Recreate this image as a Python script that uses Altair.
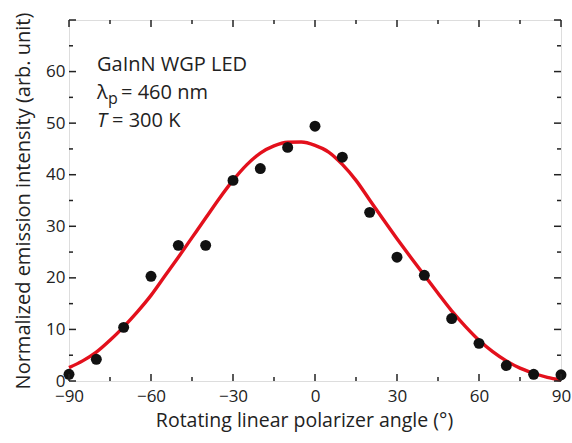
import altair as alt
import pandas as pd

# measured points
angles = [-90, -80, -70, -60, -50, -40, -30, -20, -10, 0, 10, 20, 30, 40, 50, 60, 70, 80, 90]
intensity = [1.3, 4.2, 10.4, 20.3, 26.3, 26.3, 38.9, 41.2, 45.3, 49.4, 43.4, 32.7, 24.0, 20.5, 12.1, 7.3, 3.0, 1.3, 1.2]

# fitted curve
fit_angles = [-90, -85, -80, -75, -70, -65, -60, -55, -50, -45, -40, -35, -30, -25, -20, -15, -10, -5,
              0, 5, 10, 15, 20, 25, 30, 35, 40, 45, 50, 55, 60, 65, 70, 75, 80, 85, 90]
fit_values = [2.6, 3.9, 5.6, 7.9, 10.5, 13.4, 16.6, 20.3, 24.0, 27.8, 31.6, 35.4, 38.9, 41.9, 44.2, 45.6, 46.3, 46.35,
              45.7, 44.4, 42.0, 38.9, 35.1, 31.3, 27.6, 24.0, 20.5, 17.0, 13.6, 10.6, 7.9, 5.7, 3.9, 2.5, 1.5, 0.7, 0.2]

x_major = [-90, -60, -30, 0, 30, 60, 90]
x_minor = [-75, -45, -15, 15, 45, 75]
y_major = [0, 10, 20, 30, 40, 50, 60, 70]
y_minor = [5, 15, 25, 35, 45, 55, 65]

FONT = "Open Sans"
W, H = 492, 361

pts = pd.DataFrame({"angle": angles, "value": intensity})
fit = pd.DataFrame({"angle": fit_angles, "value": fit_values})

xscale = alt.Scale(domain=[-90, 90], nice=False, zero=False)
yscale = alt.Scale(domain=[0, 70], nice=False)

xaxis = alt.Axis(values=[-90, -60, -30, 0, 30, 60, 90], ticks=False, domain=False, grid=False,
                 labelExpr="replace(datum.label, '-', '\u2212')", labelPadding=7,
                 labelFontSize=17, labelFont=FONT, labelColor="#222", labelFlush=False,
                 title="Rotating linear polarizer angle (\u00b0)", titleFont=FONT, titleFontSize=19.5,
                 titleFontWeight="normal", titleColor="#222", titlePadding=7, titleX=235)
yaxis = alt.Axis(values=[0, 10, 20, 30, 40, 50, 60], ticks=False, domain=False, grid=False,
                 labelPadding=4, labelFontSize=17, labelFont=FONT, labelColor="#222", labelFlush=False,
                 title="Normalized emission intensity (arb. unit)", titleFont=FONT, titleFontSize=20,
                 titleFontWeight="normal", titleColor="#222", titlePadding=12)


def X(field="angle"):
    return alt.X(f"{field}:Q", scale=xscale, axis=xaxis)


def Y(field="value"):
    return alt.Y(f"{field}:Q", scale=yscale, axis=yaxis)


line = alt.Chart(fit).mark_line(color="#e3101c", strokeWidth=3.4, interpolate="monotone").encode(
    x=X(), y=Y())
points = alt.Chart(pts).mark_circle(color="#111", opacity=1, size=120).encode(x=X(), y=Y())

xmaj = pd.DataFrame({"angle": x_major})
xmin = pd.DataFrame({"angle": x_minor})
ymaj = pd.DataFrame({"value": y_major})
ymin = pd.DataFrame({"value": y_minor})

tick_color = "#222"
layers = []
for df, ln in [(xmaj, 7), (xmin, 4)]:
    layers.append(alt.Chart(df).mark_rule(color=tick_color, strokeWidth=1.5).encode(
        x=X(), y=alt.value(H), y2=alt.value(H - ln)))
    layers.append(alt.Chart(df).mark_rule(color=tick_color, strokeWidth=1.5).encode(
        x=X(), y=alt.value(0), y2=alt.value(ln)))
for df, ln in [(ymaj, 7), (ymin, 4)]:
    layers.append(alt.Chart(df).mark_rule(color=tick_color, strokeWidth=1.5).encode(
        y=Y(), x=alt.value(0), x2=alt.value(ln)))
    layers.append(alt.Chart(df).mark_rule(color=tick_color, strokeWidth=1.5).encode(
        y=Y(), x=alt.value(W), x2=alt.value(W - ln)))

# annotation
ann_font = 20
def txt(t, x, y, size=ann_font, style="normal"):
    return alt.Chart(pd.DataFrame({"t": [t]})).mark_text(
        align="left", baseline="alphabetic", font=FONT, fontSize=size, fontStyle=style, color="#222"
    ).encode(text="t:N", x=alt.value(x), y=alt.value(y))

ann = [
    txt("GaInN WGP LED", 28, 51),
    txt("\u03bb", 28, 79),
    txt("p", 39, 84, size=16),
    txt("= 460 nm", 52, 79),
    txt("T", 28, 107, style="italic"),
    txt("= 300 K", 43, 107),
]

chart = alt.layer(line, points, *layers, *ann).properties(
    width=W, height=H,
    autosize=alt.AutoSizeParams(type="none"),
    padding={"left": 69, "top": 20, "right": 11, "bottom": 62},
).configure_view(stroke="#222", strokeWidth=1.6).configure(background="white")

chart.save("out.html", embed_options={"renderer": "svg", "actions": False})
